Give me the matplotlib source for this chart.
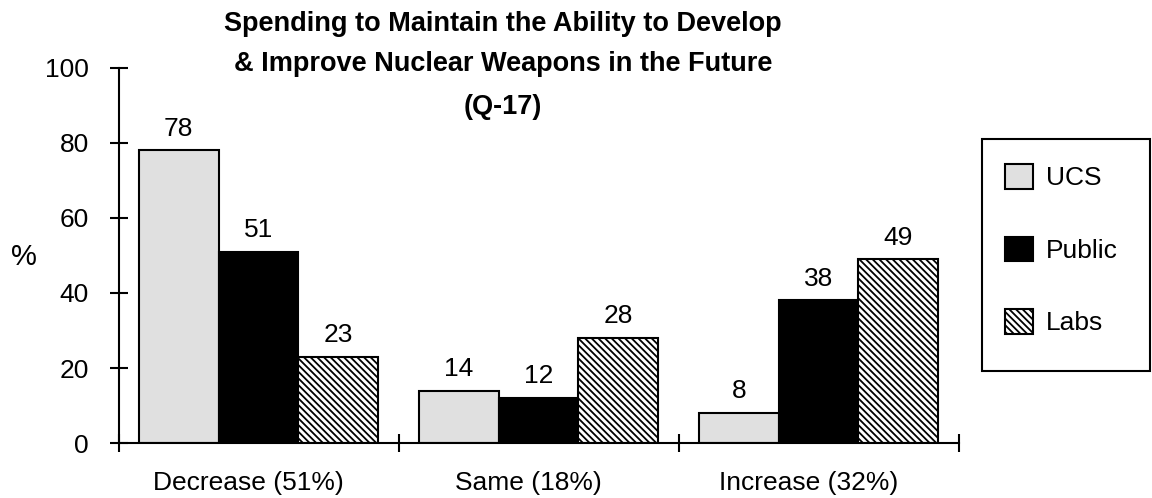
import numpy as np
import matplotlib
matplotlib.use("Agg")
import matplotlib.pyplot as plt
from matplotlib.patches import Rectangle

# data
categories = ["Decrease (51%)", "Same (18%)", "Increase (32%)"]
series = ["UCS", "Public", "Labs"]
ucs = [78, 14, 8]
public = [51, 12, 38]
labs = [23, 28, 49]

title_lines = ["Spending to Maintain the Ability to Develop",
               "& Improve Nuclear Weapons in the Future",
               "(Q-17)"]

plt.rcParams['font.family'] = ['Liberation Sans', 'DejaVu Sans']
plt.rcParams['hatch.linewidth'] = 1.3
plt.rcParams['hatch.color'] = 'black'

W, H = 1152, 498
fig = plt.figure(figsize=(W/100, H/100), dpi=100)
ax = fig.add_axes([118.5/W, 55/H, 840/W, 375/H])

bw = 0.285
x = np.arange(len(categories)) + 0.5
styles = [dict(color="#e0e0e0", hatch=None),
          dict(color="black", hatch=None),
          dict(color="white", hatch="\\\\\\\\\\")]

for k, (name, vals, st) in enumerate(zip(series, [ucs, public, labs], styles)):
    bars = ax.bar(x + (k-1)*bw, vals, width=bw, label=name,
                  facecolor=st["color"], edgecolor="black",
                  hatch=st["hatch"], linewidth=1.5, zorder=2)
    for b, v in zip(bars, vals):
        ax.annotate(str(v), (b.get_x() + b.get_width()/2, v),
                    xytext=(0, 7), textcoords="offset points",
                    ha="center", va="bottom", fontsize=19)

ax.set_xlim(0, 3)
ax.set_ylim(0, 100)
ax.set_yticks(np.arange(0, 101, 20))
ax.set_xticks([0, 1, 2, 3])
ax.set_xticklabels([])
ax.set_xticks(x - 0.035, minor=True)
ax.set_xticklabels(categories, minor=True)
ax.tick_params(axis="x", which="minor", length=0, pad=20, labelsize=19)
ax.tick_params(axis="x", which="major", direction="inout", length=13, width=1.5)
ax.tick_params(axis="y", direction="inout", length=13, width=1.5, pad=15, labelsize=19)

for s in ["top", "right"]:
    ax.spines[s].set_visible(False)
for s in ["left", "bottom"]:
    ax.spines[s].set_linewidth(1.5)
    ax.spines[s].set_zorder(3)

fig.text(24/W, 1 - 257/H, "%", fontsize=21, ha="center", va="center")

for yy, line in zip([24, 64, 107], title_lines):
    fig.text(503/W, 1 - yy/H, line, fontsize=19.5, fontweight="bold",
             ha="center", va="center")

# legend box drawn separately so its size matches the reference
fig.patches.append(Rectangle((982/W, 1 - 371/H), 168/W, 232/H,
                             transform=fig.transFigure, facecolor="white",
                             edgecolor="black", linewidth=1.5, zorder=-1))
leg = ax.legend(loc="upper left", bbox_to_anchor=(1005/W, 1 - 164/H),
                bbox_transform=fig.transFigure, borderaxespad=0,
                fontsize=19, handlelength=1.06, handleheight=1.06,
                handletextpad=0.5, labelspacing=1.75, borderpad=0,
                frameon=False)

fig.savefig("out.png", dpi=100)
